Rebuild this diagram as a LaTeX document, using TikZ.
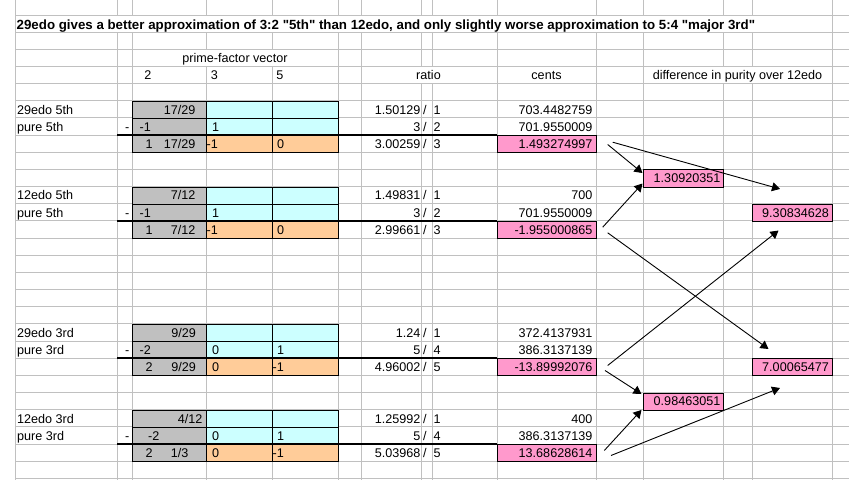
\documentclass[tikz,border=0pt]{standalone}
\usepackage{fontspec}
\setmainfont{Liberation Sans}
\usetikzlibrary{arrows.meta,calc}
\definecolor{gridc}{HTML}{C0C0C0}
\definecolor{pinkc}{HTML}{FF99CC}
\definecolor{cyanc}{HTML}{CCFFFF}
\definecolor{orangec}{HTML}{FFCC99}
\definecolor{greyc}{HTML}{C0C0C0}
\newcommand\cellfont{\fontsize{12.6}{14}\selectfont}
\font\titleraw="Liberation Sans/B" at 13.3pt
\newcommand\titlefont{\titleraw}
\newcommand\tx[5]{\node[#1] (#2) at (#3,{bl(#4)}) {#5};}
\newcommand\vecblock[2]{%
  \node[box,fill=greyc,minimum width=74pt] (#2g0) at (132,{ry(#1)}) {};
  \node[box,fill=greyc,minimum width=74pt] (#2g1) at (132,{ry(#1+1)}) {};
  \node[box,fill=greyc,minimum width=74pt] (#2g2) at (132,{ry(#1+2)}) {};
  \node[box,fill=cyanc,minimum width=66pt] (#2a0) at (206,{ry(#1)}) {};
  \node[box,fill=cyanc,minimum width=66pt] (#2b0) at (272,{ry(#1)}) {};
  \node[box,fill=cyanc,minimum width=66pt] (#2a1) at (206,{ry(#1+1)}) {};
  \node[box,fill=cyanc,minimum width=66pt] (#2b1) at (272,{ry(#1+1)}) {};
  \node[box,fill=orangec,minimum width=66pt] (#2a2) at (206,{ry(#1+2)}) {};
  \node[box,fill=orangec,minimum width=66pt] (#2b2) at (272,{ry(#1+2)}) {};
  \node[box,fill=pinkc,minimum width=99pt] (#2p) at (497,{ry(#1+2)}) {};
  \draw[line width=2pt] (117,{ry(#1+2)}) -- (497,{ry(#1+2)});
}
\begin{document}
\begin{tikzpicture}[x=1pt,y=-1pt,
  declare function={ry(\k)=15+17.16*\k; bl(\k)=15+17.16*(\k+1)-3.8;},
  grid/.style={draw=gridc,line width=1pt},
  L/.style={inner sep=0pt,anchor=base west,font=\cellfont},
  Rt/.style={inner sep=0pt,anchor=base east,font=\cellfont},
  C/.style={inner sep=0pt,anchor=base,font=\cellfont},
  box/.style={draw=black,line width=1pt,inner sep=0pt,anchor=north west,minimum height=17.16pt},
  arr/.style={draw=black,line width=0.9pt,-{Triangle[length=8pt,width=9pt]}},
]
\useasboundingbox (0,0) rectangle (849,480);
\fill[white] (0,0) rectangle (849,480);
% grid
\foreach \k in {0,...,27} \draw[grid] (15,{ry(\k)}) -- (849,{ry(\k)});
\foreach \x in {15,117,132,206,272,338,361,421,432,497,596,643,723,752,832}
  \draw[grid] (\x,0) -- (\x,480);
% hidden grid segments (overflowing / centred texts)
\fill[white] (15.6,{ry(0)+0.6}) rectangle (831.4,{ry(1)-0.6});
\fill[white] (132.6,{ry(2)+0.6}) rectangle (337.4,{ry(3)-0.6});
\fill[white] (361.6,{ry(3)+0.6}) rectangle (496.4,{ry(4)-0.6});
\fill[white] (643.6,{ry(3)+0.6}) rectangle (831.4,{ry(4)-0.6});
% coloured blocks
\vecblock{5}{A}
\vecblock{10}{B}
\vecblock{18}{C}
\vecblock{23}{D}
% difference cells
\node[box,fill=pinkc,minimum width=80pt] (d1) at (643,{ry(9)}) {};
\node[box,fill=pinkc,minimum width=80pt] (d2) at (752,{ry(11)}) {};
\node[box,fill=pinkc,minimum width=80pt] (d3) at (752,{ry(20)}) {};
\node[box,fill=pinkc,minimum width=80pt] (d4) at (643,{ry(22)}) {};
% title and headers
\node[inner sep=0pt,anchor=base west,font=\titlefont] (title) at (16.5,29) {29edo gives a better approximation of 3:2 "5th" than 12edo, and only slightly worse approximation to 5:4 "major 3rd"};
\tx{C}{hpf}{235}{2}{prime-factor vector}
\tx{C}{h2}{148}{3}{2}
\tx{C}{h3}{214.3}{3}{3}
\tx{C}{h5}{280}{3}{5}
\tx{C}{hratio}{428.5}{3}{ratio}
\tx{C}{hcents}{546.5}{3}{cents}
\tx{C}{hdiff}{737.5}{3}{difference in purity over 12edo}
% block A : 29edo 5th
\tx{L}{la0}{17}{5}{29edo 5th}
\tx{L}{la1}{17}{6}{pure 5th}
\tx{Rt}{ma}{129.5}{6}{-}
\tx{Rt}{ga0}{195.5}{5}{17/29}
\tx{L}{ga1}{139.5}{6}{-1}
\tx{L}{ga2}{145.5}{7}{1}
\tx{Rt}{ga3}{195.5}{7}{17/29}
\tx{L}{va1}{212}{6}{1}
\tx{L}{oa1}{206.5}{7}{-1}
\tx{L}{oa2}{277}{7}{0}
\tx{Rt}{rna0}{420.5}{5}{1.50129}\tx{L}{rsa0}{423}{5}{/}\tx{L}{rda0}{433.5}{5}{1}
\tx{Rt}{rna1}{420.5}{6}{3}\tx{L}{rsa1}{423}{6}{/}\tx{L}{rda1}{433.5}{6}{2}
\tx{Rt}{rna2}{420.5}{7}{3.00259}\tx{L}{rsa2}{423}{7}{/}\tx{L}{rda2}{433.5}{7}{3}
\tx{Rt}{ca0}{592.5}{5}{703.4482759}
\tx{Rt}{ca1}{592.5}{6}{701.9550009}
\tx{Rt}{ca2}{592.5}{7}{1.493274997}
% block B : 12edo 5th
\tx{L}{lb0}{17}{10}{12edo 5th}
\tx{L}{lb1}{17}{11}{pure 5th}
\tx{Rt}{mb}{129.5}{11}{-}
\tx{Rt}{gb0}{195.5}{10}{7/12}
\tx{L}{gb1}{139.5}{11}{-1}
\tx{L}{gb2}{145.5}{12}{1}
\tx{Rt}{gb3}{195.5}{12}{7/12}
\tx{L}{vb1}{212}{11}{1}
\tx{L}{ob1}{206.5}{12}{-1}
\tx{L}{ob2}{277}{12}{0}
\tx{Rt}{rnb0}{420.5}{10}{1.49831}\tx{L}{rsb0}{423}{10}{/}\tx{L}{rdb0}{433.5}{10}{1}
\tx{Rt}{rnb1}{420.5}{11}{3}\tx{L}{rsb1}{423}{11}{/}\tx{L}{rdb1}{433.5}{11}{2}
\tx{Rt}{rnb2}{420.5}{12}{2.99661}\tx{L}{rsb2}{423}{12}{/}\tx{L}{rdb2}{433.5}{12}{3}
\tx{Rt}{cb0}{592.5}{10}{700}
\tx{Rt}{cb1}{592.5}{11}{701.9550009}
\tx{Rt}{cb2}{592.5}{12}{-1.955000865}
% block C : 29edo 3rd
\tx{L}{lc0}{17}{18}{29edo 3rd}
\tx{L}{lc1}{17}{19}{pure 3rd}
\tx{Rt}{mc}{129.5}{19}{-}
\tx{Rt}{gc0}{196}{18}{9/29}
\tx{L}{gc1}{139.5}{19}{-2}
\tx{L}{gc2}{145.5}{20}{2}
\tx{Rt}{gc3}{196}{20}{9/29}
\tx{L}{vc1}{212}{19}{0}
\tx{L}{vc2}{277}{19}{1}
\tx{L}{oc1}{212}{20}{0}
\tx{L}{oc2}{272.5}{20}{-1}
\tx{Rt}{rnc0}{420.5}{18}{1.24}\tx{L}{rsc0}{423}{18}{/}\tx{L}{rdc0}{433.5}{18}{1}
\tx{Rt}{rnc1}{420.5}{19}{5}\tx{L}{rsc1}{423}{19}{/}\tx{L}{rdc1}{433.5}{19}{4}
\tx{Rt}{rnc2}{420.5}{20}{4.96002}\tx{L}{rsc2}{423}{20}{/}\tx{L}{rdc2}{433.5}{20}{5}
\tx{Rt}{cc0}{592.5}{18}{372.4137931}
\tx{Rt}{cc1}{592.5}{19}{386.3137139}
\tx{Rt}{cc2}{592.5}{20}{-13.89992076}
% block D : 12edo 3rd
\tx{L}{ld0}{17}{23}{12edo 3rd}
\tx{L}{ld1}{17}{24}{pure 3rd}
\tx{Rt}{md}{129.5}{24}{-}
\tx{Rt}{gd0}{202.5}{23}{4/12}
\tx{L}{gd1}{148}{24}{-2}
\tx{L}{gd2}{145.5}{25}{2}
\tx{Rt}{gd3}{188.5}{25}{1/3}
\tx{L}{vd1}{212}{24}{0}
\tx{L}{vd2}{277}{24}{1}
\tx{L}{od1}{212}{25}{0}
\tx{L}{od2}{272.5}{25}{-1}
\tx{Rt}{rnd0}{420.5}{23}{1.25992}\tx{L}{rsd0}{423}{23}{/}\tx{L}{rdd0}{433.5}{23}{1}
\tx{Rt}{rnd1}{420.5}{24}{5}\tx{L}{rsd1}{423}{24}{/}\tx{L}{rdd1}{433.5}{24}{4}
\tx{Rt}{rnd2}{420.5}{25}{5.03968}\tx{L}{rsd2}{423}{25}{/}\tx{L}{rdd2}{433.5}{25}{5}
\tx{Rt}{cd0}{592.5}{23}{400}
\tx{Rt}{cd1}{592.5}{24}{386.3137139}
\tx{Rt}{cd2}{592.5}{25}{13.68628614}
% difference values
\tx{Rt}{dt1}{720.5}{9}{1.30920351}
\tx{Rt}{dt2}{829}{11}{9.30834628}
\tx{Rt}{dt3}{829}{20}{7.00065477}
\tx{Rt}{dt4}{720.5}{22}{0.98463051}
% arrow end points
\coordinate (s1) at ($(Ap.east)+(10.7,0.3)$);
\coordinate (s2) at ($(Ap.east)+(15.7,-2)$);
\coordinate (s3) at ($(Bp.east)+(5.7,-2.8)$);
\coordinate (s4) at ($(Bp.east)+(10.7,2.8)$);
\coordinate (s5) at ($(Cp.east)+(10.7,-1.8)$);
\coordinate (s6) at ($(Cp.east)+(8,3.2)$);
\coordinate (s7) at ($(Dp.east)+(7.3,-2.6)$);
\coordinate (s8) at ($(Dp.east)+(14,2.4)$);
\coordinate (t1) at ($(d1.north west)+(-0.5,3.6)$);
\coordinate (t3) at ($(d1.south west)+(-0.5,-4.1)$);
\coordinate (t2) at ($(d2.north west)+(28,-14.8)$);
\coordinate (t5) at ($(d2.south west)+(26.5,8.6)$);
\coordinate (t4) at ($(d3.north west)+(16.5,-9.2)$);
\coordinate (t8) at ($(d3.south west)+(28,11.6)$);
\coordinate (t6) at ($(d4.north west)+(-1.5,1.5)$);
\coordinate (t7) at ($(d4.south west)+(-1.5,-0.7)$);
\draw[arr] (s1) -- (t1);
\draw[arr] (s2) -- (t2);
\draw[arr] (s3) -- (t3);
\draw[arr] (s4) -- (t4);
\draw[arr] (s5) -- (t5);
\draw[arr] (s6) -- (t6);
\draw[arr] (s7) -- (t7);
\draw[arr] (s8) -- (t8);
\end{tikzpicture}
\end{document}
